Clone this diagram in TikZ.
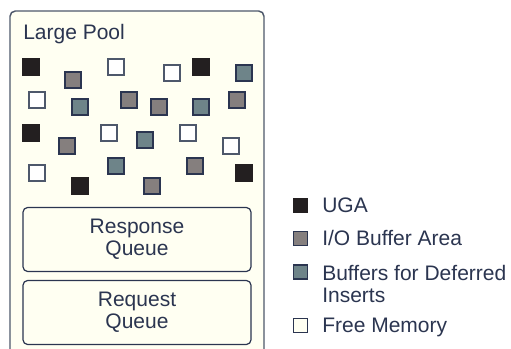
\documentclass[tikz,border=0pt]{standalone}
\usepackage{fontspec}
\setmainfont{Liberation Sans}
\definecolor{cream}{HTML}{FFFFF2}
\definecolor{navy}{HTML}{2B3550}
\definecolor{edgec}{HTML}{4E586B}
\definecolor{blk}{HTML}{231F20}
\definecolor{gry}{HTML}{857F7E}
\definecolor{tea}{HTML}{6E8489}
\tikzset{
  px/.style={x=0.75pt,y=-0.75pt},
  sq/.style={minimum size=12pt,inner sep=0pt,line width=1pt,draw=navy},
  sqb/.style={sq,fill=blk,draw=blk},
  sqg/.style={sq,fill=gry},
  sqt/.style={sq,fill=tea},
  sqw/.style={sq,fill=white,draw=edgec},
  lsq/.style={minimum size=10.5pt,inner sep=0pt,line width=0.9pt,draw=navy},
  txt/.style={text=navy,font=\fontsize{15.75}{16.5}\selectfont,inner sep=0pt},
  qbox/.style={draw=navy,fill=cream,line width=0.9pt,rounded corners=3.5pt,minimum width=171pt,minimum height=48pt,txt,align=center},
}
\begin{document}
\begin{tikzpicture}[px]
\useasboundingbox (0,0) rectangle (511,349);
\fill[white] (0,0) rectangle (511,349);
% outer pool
\coordinate (pbl) at (10,352);
\coordinate (pbr) at (264,352);
\filldraw[fill=cream,draw=edgec,line width=1.1pt,rounded corners=4pt] (pbl) -- (10,11) -- (264,11) -- (pbr);
\node[txt,anchor=base west] (title) at (23,40) {Large Pool};
% row 1
\node[sqb] (s1) at (31,67) {};
\node[sqg] (s2) at (73,80) {};
\node[sqw] (s3) at (116,67) {};
\node[sqw] (s4) at (172,73) {};
\node[sqb] (s5) at (201,67) {};
\node[sqt] (s6) at (244,73) {};
% row 2
\node[sqw] (s7) at (37,100) {};
\node[sqt] (s8) at (80,107) {};
\node[sqg] (s9) at (129,100) {};
\node[sqg] (s10) at (159,107) {};
\node[sqt] (s11) at (201,107) {};
\node[sqg] (s12) at (237,100) {};
% row 3
\node[sqb] (s13) at (31,133) {};
\node[sqg] (s14) at (67,146) {};
\node[sqw] (s15) at (109,133) {};
\node[sqt] (s16) at (145,140) {};
\node[sqw] (s17) at (188,133) {};
\node[sqw] (s18) at (231,146) {};
% row 4
\node[sqw] (s19) at (37,173) {};
\node[sqb] (s20) at (80,186) {};
\node[sqt] (s21) at (116,166) {};
\node[sqg] (s22) at (152,186) {};
\node[sqg] (s23) at (195,166) {};
\node[sqb] (s24) at (244,173) {};
% queues
\node[qbox] (resp) at (137,239.5) {Response\\Queue};
\node[qbox] (req) at (137,312.5) {Request\\Queue};
% legend
\node[lsq,fill=blk,draw=blk] (l1) at (300.5,205.5) {};
\node[txt,anchor=base west] (t1) at (322,213) {UGA};
\node[lsq,fill=gry] (l2) at (300.5,238.5) {};
\node[txt,anchor=base west] (t2) at (322,246) {I/O Buffer Area};
\node[lsq,fill=tea] (l3) at (300.5,272) {};
\node[txt,anchor=base west,align=left] (t3) at (322,302) {Buffers for Deferred\\Inserts};
\node[lsq,fill=cream] (l4) at (300.5,325.5) {};
\node[txt,anchor=base west] (t4) at (322,333) {Free Memory};
\end{tikzpicture}
\end{document}
